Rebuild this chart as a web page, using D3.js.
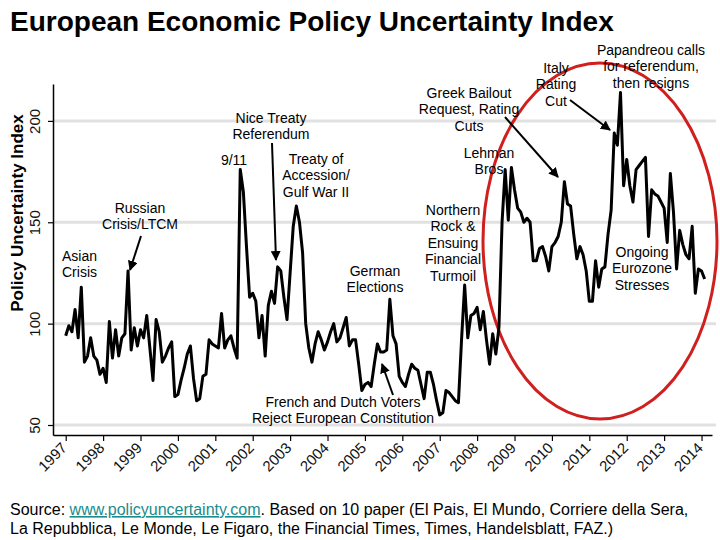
<!DOCTYPE html>
<html>
<head>
<meta charset="utf-8">
<script src="https://cdn.jsdelivr.net/npm/d3@7/dist/d3.min.js"></script>
<style>
  html, body { margin: 0; padding: 0; background: #fff; }
  svg { display: block; font-family: "Liberation Sans", Arial, sans-serif; }
</style>
</head>
<body>
<svg id="chart" width="720" height="540"></svg>
<script>
// ---------- DATA ----------
const startYear = 1997;           // first observation: January 1997, monthly
const yearTicks = [1997,1998,1999,2000,2001,2002,2003,2004,2005,2006,2007,2008,2009,2010,2011,2012,2013,2014];
const yTicks = [50, 100, 150, 200];
const epuValues = [
  // 1997
  94, 99, 96, 107, 93, 118, 81, 84, 93, 84, 82, 75,
  // 1998
  78, 71, 101, 83, 97, 84, 93, 95, 126, 87, 98, 89,
  // 1999
  97, 93, 104, 88, 72, 102, 96, 81, 84, 88, 91, 64,
  // 2000
  65, 72, 78, 85, 89, 73, 62, 63, 74, 75, 92, 90,
  // 2001
  89, 88, 105, 88, 92, 94, 88, 83, 176, 165, 138, 113,
  // 2002
  115, 111, 93, 104, 84, 109, 116, 110, 128, 126, 113, 102,
  // 2003
  125, 148, 158, 150, 135, 100, 88, 81, 90, 96, 92, 87,
  // 2004
  91, 96, 100, 91, 93, 98, 103, 89, 92, 92, 80, 67,
  // 2005
  70, 71, 69, 80, 90, 86, 86, 87, 112, 94, 90, 74,
  // 2006
  71, 69, 75, 80, 78, 77, 70, 63, 76, 76, 70, 62,
  // 2007
  55, 56, 67, 66, 64, 62, 61, 92, 119, 93, 104, 105,
  // 2008
  108, 97, 106, 92, 80, 95, 85, 98, 150, 176, 151, 177,
  // 2009
  166, 157, 155, 150, 152, 150, 131, 131, 137, 138, 133, 126,
  // 2010
  138, 140, 143, 150, 170, 159, 158, 144, 132, 138, 134, 126,
  // 2011
  111, 111, 131, 118, 127, 128, 144, 156, 194, 188, 214, 168,
  // 2012
  181, 168, 160, 176, 178, 180, 182, 143, 166, 164, 163, 160,
  // 2013
  157, 140, 174, 155, 127, 146, 139, 134, 132, 148, 115, 127,
  // 2014
  126, 122
];
const titleText = "European Economic Policy Uncertainty Index";
const yAxisTitle = "Policy Uncertainty Index";
const sourceLine1Prefix = "Source: ";
const sourceLink = "www.policyuncertainty.com";
const sourceLine1Rest = ". Based on 10 paper (El Pais, El Mundo, Corriere della Sera,";
const sourceLine2 = "La Repubblica, Le Monde, Le Figaro, the Financial Times, Times, Handelsblatt, FAZ.)";

// ---------- CHART ----------
const svg = d3.select("#chart");
const series = epuValues.map((v, i) => ({ t: startYear + i / 12, v }));

const x = d3.scaleLinear().domain([1996.66, 2014.28]).range([53, 712]);
const y = d3.scaleLinear().domain([45.07, 218.2]).range([435, 84]);

// title
svg.append("text").attr("x", 10).attr("y", 31)
  .attr("font-size", 28).attr("font-weight", "bold").attr("fill", "#000")
  .text(titleText);

// gridlines
svg.append("g").selectAll("line").data(yTicks).join("line")
  .attr("x1", 53).attr("x2", 716)
  .attr("y1", d => y(d)).attr("y2", d => y(d))
  .attr("stroke", "#e1e1e1").attr("stroke-width", 3);

// y axis
const yAxis = svg.append("g").attr("transform", "translate(53,0)")
  .call(d3.axisLeft(y).tickValues(yTicks).tickSize(5).tickSizeOuter(0));
yAxis.select(".domain").attr("stroke", "#000").attr("stroke-width", 1.5);
yAxis.selectAll(".tick line").attr("stroke", "#000").attr("stroke-width", 1.2);
yAxis.selectAll(".tick text")
  .attr("font-size", 15).attr("font-family", "Liberation Sans, Arial, sans-serif")
  .attr("fill", "#111")
  .attr("text-anchor", "middle")
  .attr("transform", "rotate(-90)")
  .attr("x", 0).attr("dx", null).attr("dy", null)
  .attr("y", -13);

// y axis title
svg.append("text")
  .attr("transform", "translate(23,213) rotate(-90)")
  .attr("text-anchor", "middle").attr("font-size", 17).attr("font-weight", "bold")
  .text(yAxisTitle);

// x axis
const xAxis = svg.append("g").attr("transform", "translate(0,435)")
  .call(d3.axisBottom(x).tickValues(yearTicks).tickSize(6).tickSizeOuter(0).tickFormat(d3.format("d")));
xAxis.select(".domain").attr("stroke", "#000").attr("stroke-width", 1.5);
xAxis.selectAll(".tick line").attr("stroke", "#000").attr("stroke-width", 1.2);
xAxis.selectAll(".tick text")
  .attr("font-size", 15).attr("font-family", "Liberation Sans, Arial, sans-serif")
  .attr("fill", "#111")
  .attr("text-anchor", "end")
  .attr("y", 0).attr("dy", null)
  .attr("transform", "translate(-1,11) rotate(-45)")
  .attr("dominant-baseline", "middle");

// red ellipse
svg.append("ellipse")
  .attr("cx", 600).attr("cy", 241).attr("rx", 117).attr("ry", 178)
  .attr("fill", "none").attr("stroke", "#d01f1f").attr("stroke-width", 3);

// data line
svg.append("path").datum(series)
  .attr("fill", "none").attr("stroke", "#000").attr("stroke-width", 3)
  .attr("stroke-linejoin", "round")
  .attr("d", d3.line().x(d => x(d.t)).y(d => y(d.v)));

// arrow marker
svg.append("defs").append("marker")
  .attr("id", "arr").attr("viewBox", "0 0 10 10").attr("refX", 9).attr("refY", 5)
  .attr("markerWidth", 5).attr("markerHeight", 5).attr("orient", "auto")
  .append("path").attr("d", "M0,0 L10,5 L0,10 z").attr("fill", "#000");

// annotations
const notes = [
  { lines: ["Asian", "Crisis"], x: 62, y: 261, anchor: "start" },
  { lines: ["Russian", "Crisis/LTCM"], x: 140, y: 213, anchor: "middle" },
  { lines: ["9/11"], x: 234, y: 165, anchor: "middle" },
  { lines: ["Nice Treaty", "Referendum"], x: 271, y: 123, anchor: "middle" },
  { lines: ["Treaty of", "Accession/", "Gulf War II"], x: 316, y: 164, anchor: "middle" },
  { lines: ["German", "Elections"], x: 375, y: 276, anchor: "middle" },
  { lines: ["French and Dutch Voters", "Reject European Constitution"], x: 343, y: 407, anchor: "middle" },
  { lines: ["Northern", "Rock &", "Ensuing", "Financial", "Turmoil"], x: 453, y: 215, anchor: "middle" },
  { lines: ["Greek Bailout", "Request, Rating", "Cuts"], x: 469, y: 98, anchor: "middle" },
  { lines: ["Lehman", "Bros"], x: 489, y: 158, anchor: "middle" },
  { lines: ["Italy", "Rating", "Cut"], x: 556, y: 73, anchor: "middle" },
  { lines: ["Papandreou calls", "for referendum,", "then resigns"], x: 651, y: 55, anchor: "middle" },
  { lines: ["Ongoing", "Eurozone", "Stresses"], x: 642, y: 257, anchor: "middle" }
];
const noteG = svg.append("g").attr("font-size", 14).attr("fill", "#000");
notes.forEach(n => {
  const t = noteG.append("text").attr("x", n.x).attr("y", n.y).attr("text-anchor", n.anchor);
  n.lines.forEach((l, i) => {
    t.append("tspan").attr("x", n.x).attr("dy", i === 0 ? 0 : 16.4).text(l);
  });
});

const arrows = [
  [141, 236, 130, 270],
  [272, 143, 276, 260],
  [393, 395, 382, 364],
  [505, 117, 558, 177],
  [570, 100, 610, 130]
];
svg.append("g").selectAll("line").data(arrows).join("line")
  .attr("x1", d => d[0]).attr("y1", d => d[1]).attr("x2", d => d[2]).attr("y2", d => d[3])
  .attr("stroke", "#000").attr("stroke-width", 2).attr("marker-end", "url(#arr)");

// source text
const src = svg.append("g").attr("font-size", 16).attr("fill", "#000");
const s1 = src.append("text").attr("x", 10).attr("y", 515);
s1.append("tspan").text(sourceLine1Prefix);
s1.append("tspan").attr("fill", "#1b8b8b").attr("text-decoration", "underline").text(sourceLink);
s1.append("tspan").text(sourceLine1Rest);
src.append("text").attr("x", 10).attr("y", 534).text(sourceLine2);
</script>
</body>
</html>
